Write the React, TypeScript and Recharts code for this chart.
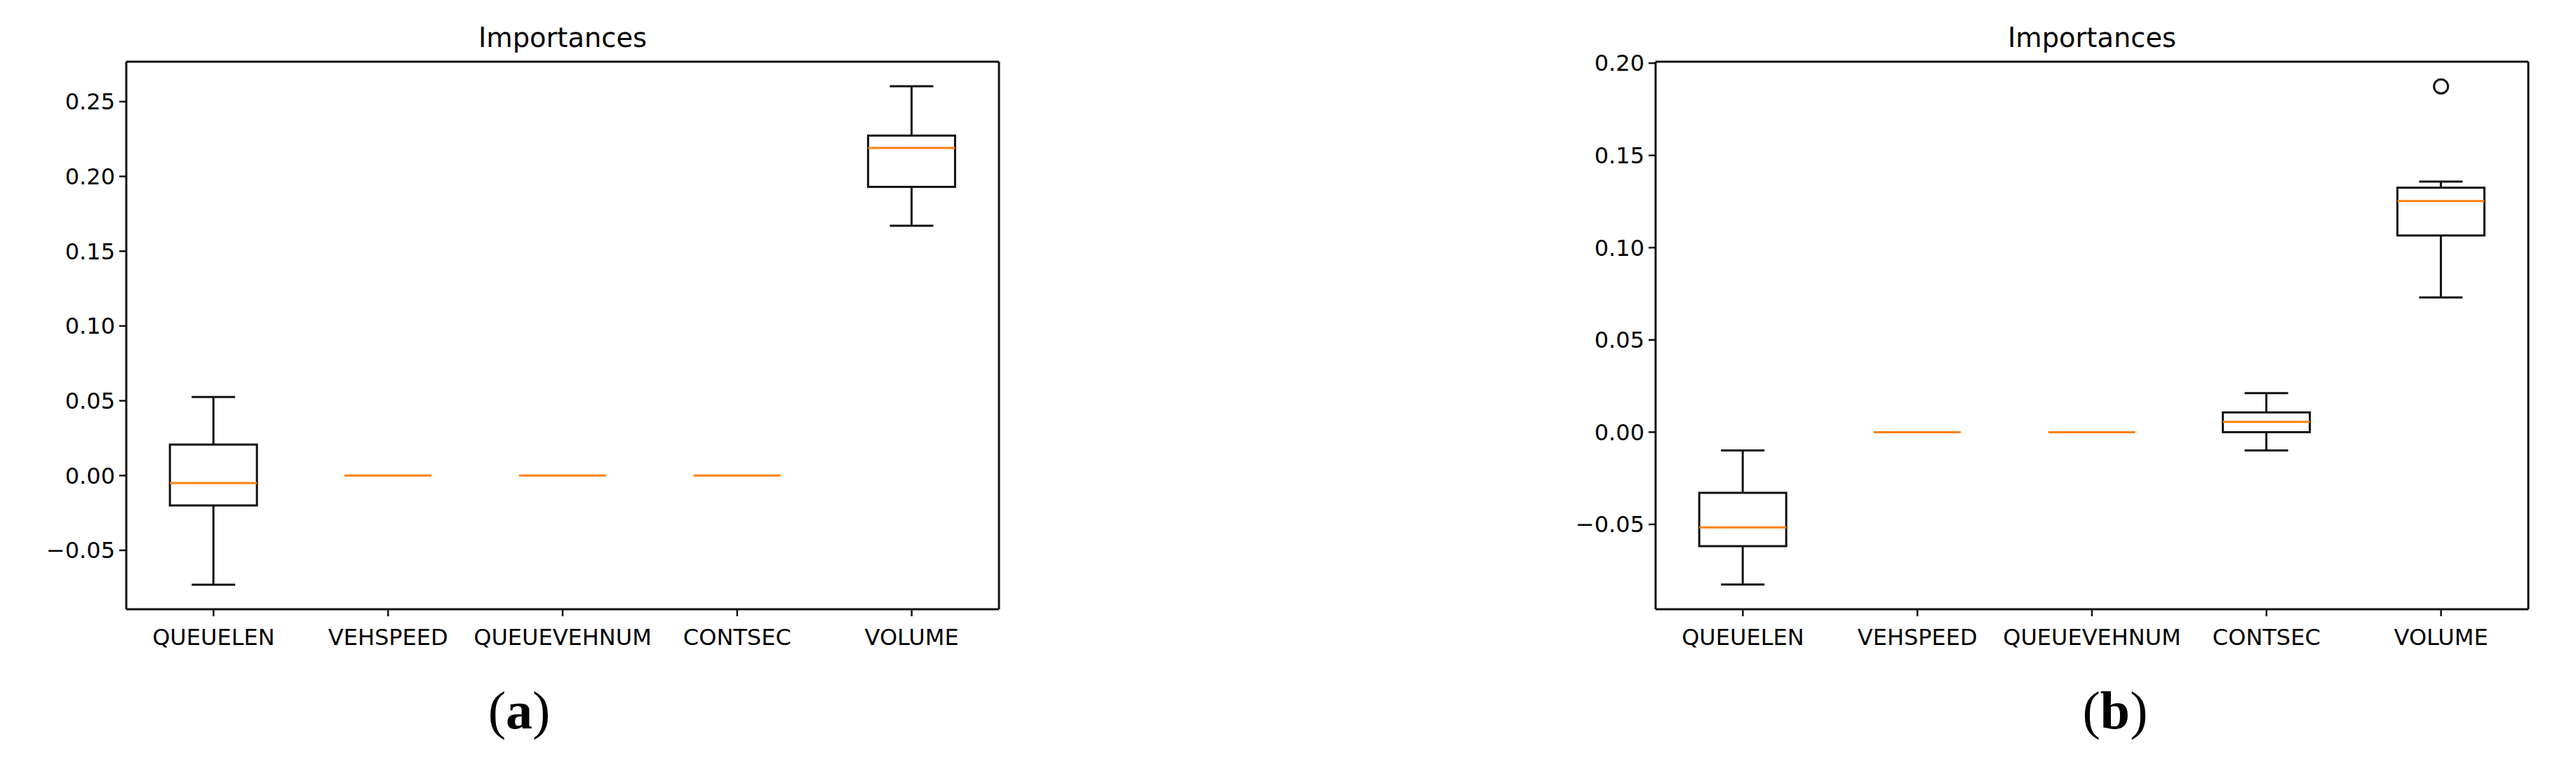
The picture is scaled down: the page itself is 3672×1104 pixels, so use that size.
import React from 'react';
import { ComposedChart, Bar, Scatter, XAxis, YAxis, CartesianGrid } from 'recharts';

const categories = ['QUEUELEN', 'VEHSPEED', 'QUEUEVEHNUM', 'CONTSEC', 'VOLUME'];

// panel (a) box stats
const aMin = [-0.073, 0, 0, 0, 0.167];
const aQ1 = [-0.020, 0, 0, 0, 0.193];
const aMedian = [-0.005, 0, 0, 0, 0.219];
const aQ3 = [0.0207, 0, 0, 0, 0.2273];
const aMax = [0.0525, 0, 0, 0, 0.2603];
const aOutliers: (number | null)[] = [null, null, null, null, null];
const aTicks = [-0.05, 0, 0.05, 0.1, 0.15, 0.2, 0.25];

// panel (b) box stats
const bMin = [-0.0826, 0, 0, -0.0099, 0.073];
const bQ1 = [-0.0618, 0, 0, 0, 0.1066];
const bMedian = [-0.0516, 0, 0, 0.0056, 0.1253];
const bQ3 = [-0.0329, 0, 0, 0.0107, 0.1325];
const bMax = [-0.0099, 0, 0, 0.0211, 0.1358];
const bOutliers: (number | null)[] = [null, null, null, null, 0.1874];
const bTicks = [-0.05, 0, 0.05, 0.1, 0.15, 0.2];

const buildRows = (
  min: number[], q1: number[], med: number[], q3: number[], max: number[], out: (number | null)[]
) =>
  categories.map((name, i) => ({
    name,
    range: [min[i], max[i]],
    min: min[i],
    q1: q1[i],
    med: med[i],
    q3: q3[i],
    max: max[i],
    outlier: out[i],
  }));

const rowsA = buildRows(aMin, aQ1, aMedian, aQ3, aMax, aOutliers);
const rowsB = buildRows(bMin, bQ1, bMedian, bQ3, bMax, bOutliers);

const INK = '#111';
const ORANGE = '#ff7f0e';
const FONT = 'DejaVu Sans';

const fmt = (v: number) => (v < 0 ? '\u2212' + Math.abs(v).toFixed(2) : v.toFixed(2));

const BoxShape = (props: any) => {
  const { x, y, width, height, payload } = props;
  if (y == null || x == null) return null;
  const { min, q1, med, q3, max } = payload;
  const span = max - min;
  if (span === 0) {
    // all values equal: matplotlib collapses the box, only the median shows
    return <line x1={x} x2={x + width} y1={y} y2={y} stroke={ORANGE} strokeWidth={3} />;
  }
  const py = (v: number) => y + (height * (max - v)) / span;
  const cx = x + width / 2;
  const cap = width / 4;
  return (
    <g>
      <line x1={cx} x2={cx} y1={py(max)} y2={py(q3)} stroke={INK} strokeWidth={3} />
      <line x1={cx} x2={cx} y1={py(q1)} y2={py(min)} stroke={INK} strokeWidth={3} />
      <line x1={cx - cap} x2={cx + cap} y1={py(max)} y2={py(max)} stroke={INK} strokeWidth={3} />
      <line x1={cx - cap} x2={cx + cap} y1={py(min)} y2={py(min)} stroke={INK} strokeWidth={3} />
      <rect x={x} y={py(q3)} width={width} height={py(q1) - py(q3)} fill="none" stroke={INK} strokeWidth={3} />
      <line x1={x} x2={x + width} y1={py(med)} y2={py(med)} stroke={ORANGE} strokeWidth={3} />
    </g>
  );
};

const Flier = (props: any) => {
  const { cx, cy } = props;
  if (cx == null || cy == null) return null;
  return <circle cx={cx} cy={cy} r={10} fill="none" stroke={INK} strokeWidth={3} />;
};

const tickStyle = { fontFamily: FONT, fontSize: 32, fill: '#000' };

const Panel = ({ rows, ticks, domain, left }: any) => (
  <div style={{ position: 'absolute', left, top: 0 }}>
    <ComposedChart
      width={1500}
      height={1104}
      data={rows}
      margin={{ top: 88, right: 76, bottom: 175, left: 0 }}
      barCategoryGap="25%"
    >
      {/* top and right spines of the matplotlib frame */}
      <CartesianGrid
        stroke={INK}
        strokeWidth={3}
        horizontalCoordinatesGenerator={({ offset }: any) => [offset.top]}
        verticalCoordinatesGenerator={({ offset }: any) => [offset.left + offset.width]}
      />
      <XAxis
        dataKey="name"
        height={60}
        tick={tickStyle}
        tickSize={10}
        tickMargin={18}
        interval={0}
        axisLine={{ stroke: INK, strokeWidth: 3 }}
        tickLine={{ stroke: INK, strokeWidth: 2.5 }}
      />
      <YAxis
        type="number"
        domain={domain}
        ticks={ticks}
        allowDataOverflow
        width={180}
        tick={tickStyle}
        tickSize={10}
        tickMargin={6}
        tickFormatter={fmt}
        axisLine={{ stroke: INK, strokeWidth: 3 }}
        tickLine={{ stroke: INK, strokeWidth: 2.5 }}
      />
      <Bar dataKey="range" shape={BoxShape} isAnimationActive={false} />
      <Scatter dataKey="outlier" shape={Flier} isAnimationActive={false} />
    </ComposedChart>
  </div>
);

export default function App() {
  return (
    <div style={{ position: 'absolute', left: 0, top: 0, width: 3672, height: 1104, background: '#fff' }}>
      <Panel rows={rowsA} ticks={aTicks} domain={[-0.0894, 0.2767]} left={0} />
      <Panel rows={rowsB} ticks={bTicks} domain={[-0.096, 0.2008]} left={2180} />
      <svg width={3672} height={1104} style={{ position: 'absolute', left: 0, top: 0, pointerEvents: 'none' }}>
        <text x={802} y={67} textAnchor="middle" fontFamily={FONT} fontSize={38.4} fill="#000">Importances</text>
        <text x={2982} y={67} textAnchor="middle" fontFamily={FONT} fontSize={38.4} fill="#000">Importances</text>
        <text x={740} y={1039} textAnchor="middle" fontFamily="Liberation Serif" fontSize={76} fill="#000">
          (<tspan fontWeight="bold">a</tspan>)
        </text>
        <text x={3015} y={1039} textAnchor="middle" fontFamily="Liberation Serif" fontSize={76} fill="#000">
          (<tspan fontWeight="bold">b</tspan>)
        </text>
      </svg>
    </div>
  );
}
